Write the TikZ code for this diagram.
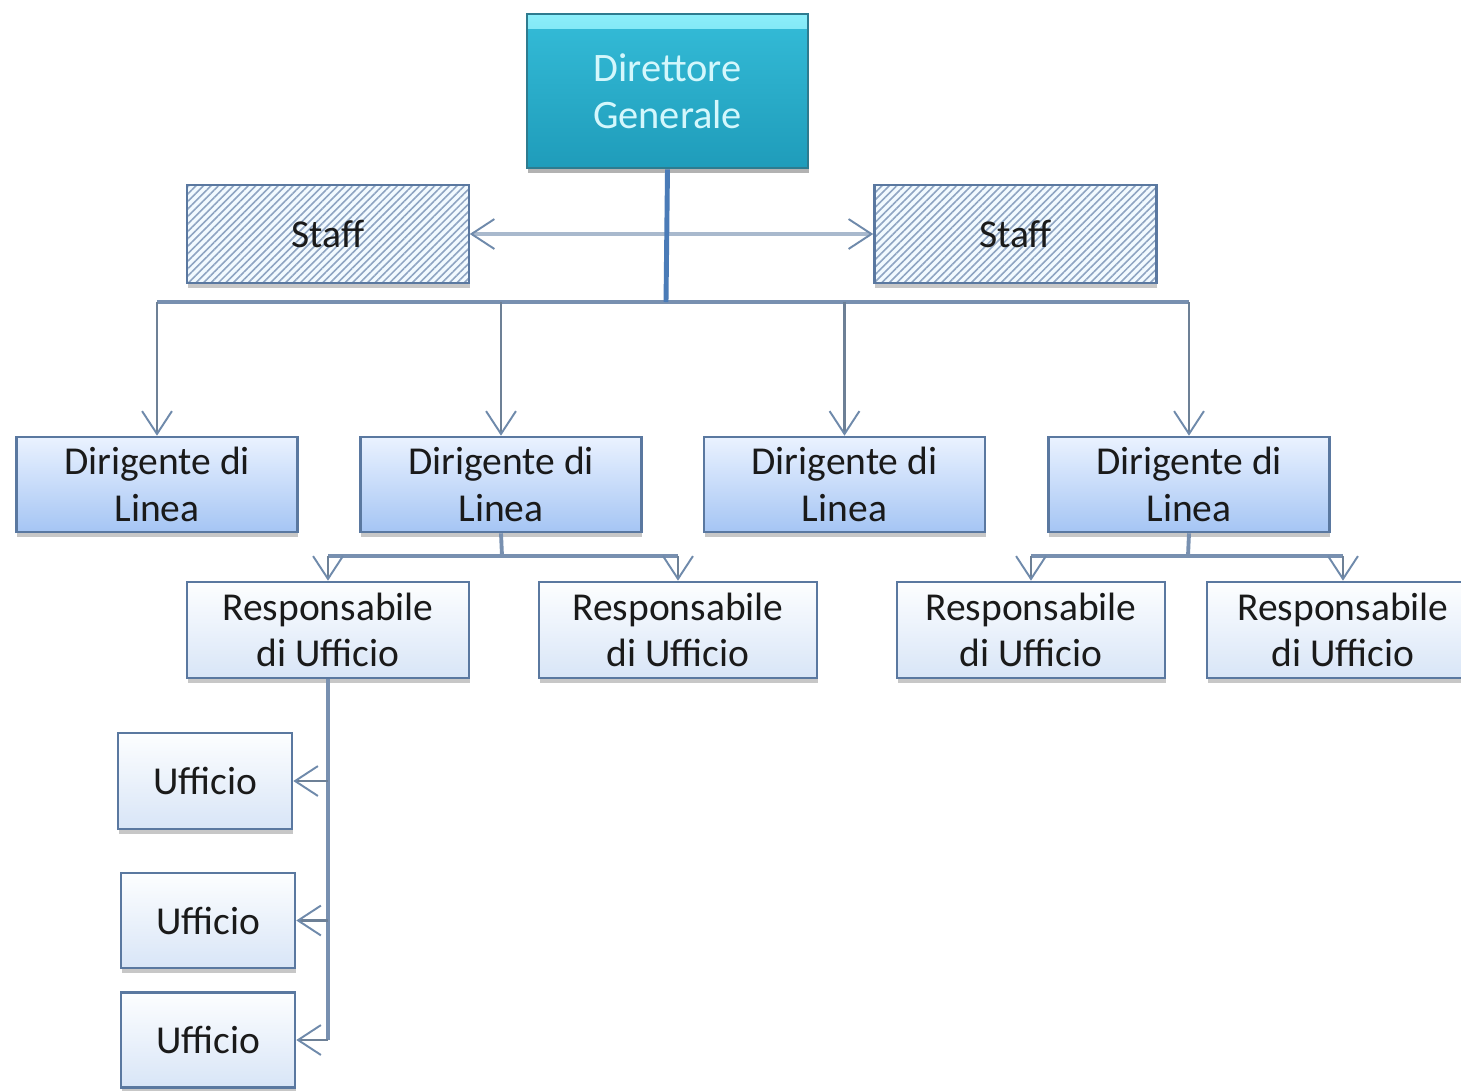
\documentclass[tikz,border=0pt]{standalone}
\usepackage{fontspec}
\setmainfont{Carlito}
\usetikzlibrary{arrows.meta,shadows,patterns.meta}
\definecolor{boxline}{HTML}{5A78A0}
\definecolor{txt}{HTML}{1A1A1A}
\definecolor{dlTop}{HTML}{EAF2FF}
\definecolor{dlBot}{HTML}{A5C5F4}
\definecolor{rsTop}{HTML}{FDFEFF}
\definecolor{rsBot}{HTML}{D8E5F7}
\definecolor{dgTop}{HTML}{34BCD8}
\definecolor{dgBot}{HTML}{1F9CBA}
\definecolor{dgHi}{HTML}{8CEEFA}
\definecolor{dgLine}{HTML}{2E7B8F}
\definecolor{dgTxt}{HTML}{D4F7FC}
\definecolor{staffBg}{HTML}{F2FAFF}
\definecolor{hatchC}{HTML}{8EA4C2}
\definecolor{trunkC}{HTML}{4A7BB7}
\definecolor{staffC}{HTML}{A9B9CD}
\definecolor{busC}{HTML}{7890B0}
\definecolor{dropC}{HTML}{6D8096}
\definecolor{tipC}{HTML}{6F8AAB}
\begin{document}
\begin{tikzpicture}[x=0.02cm,y=-0.02cm,
  tipV/.tip={Straight Barb[length=13pt,width=17pt,line width=1.1pt,color=tipC]},
  box/.style={draw=boxline, line width=1.5pt, align=center, inner sep=0pt,
    font=\fontsize{22.5}{26.5}\selectfont, text=txt,
    drop shadow={shadow xshift=0.5pt, shadow yshift=-3pt, opacity=0.22, fill=black}},
  dirbox/.style={box, top color=dlTop, bottom color=dlBot, minimum width=5.62cm, minimum height=1.9cm},
  resbox/.style={box, top color=rsTop, bottom color=rsBot, minimum height=1.92cm},
  ufbox/.style={box, top color=rsTop, bottom color=rsBot, minimum width=3.48cm, minimum height=1.92cm},
  stbox/.style={box, preaction={fill=staffBg}, pattern={Lines[angle=45,distance=3pt,line width=0.9pt]},
    pattern color=hatchC, minimum width=5.64cm, minimum height=1.96cm},
  dgbox/.style={draw=dgLine, line width=1.5pt, align=center, inner sep=0pt,
    font=\fontsize{23}{27}\selectfont, text=dgTxt, top color=dgTop, bottom color=dgBot,
    minimum width=5.62cm, minimum height=3.08cm,
    drop shadow={shadow xshift=0.5pt, shadow yshift=-3pt, opacity=0.3, fill=black},
    path picture={\shade[top color=dgHi, bottom color=dgTop]
      (path picture bounding box.north west) rectangle ([yshift=-8pt]path picture bounding box.north east);}},
  trunk/.style={draw=trunkC, line width=2.8pt},
  busl/.style={draw=busC, line width=2.2pt},
  arr/.style={draw=dropC, line width=1.5pt, -tipV},
  darr/.style={draw=staffC, line width=2.6pt, tipV-tipV},
]
\useasboundingbox (0,0) rectangle (1461,1090);
\clip (0,0) rectangle (1461,1090);

\node[dgbox] (dg) at (667.5,91) {Direttore\\Generale};
\node[stbox] (st1) at (328,234) {Staff};
\node[stbox] (st2) at (1015.5,234) {Staff};

\node[dirbox] (dl1) at (157,484.5) {Dirigente di\\Linea};
\node[dirbox] (dl2) at (501,484.5) {Dirigente di\\Linea};
\node[dirbox] (dl3) at (844.5,484.5) {Dirigente di\\Linea};
\node[dirbox] (dl4) at (1189,484.5) {Dirigente di\\Linea};

\node[resbox, minimum width=5.64cm] (rs1) at (328,630) {Responsabile\\di Ufficio};
\node[resbox, minimum width=5.56cm] (rs2) at (678,630) {Responsabile\\di Ufficio};
\node[resbox, minimum width=5.36cm] (rs3) at (1031,630) {Responsabile\\di Ufficio};
\node[resbox, minimum width=5.44cm] (rs4) at (1343,630) {Responsabile\\di Ufficio};

\node[ufbox] (uf1) at (205,781) {Ufficio};
\node[ufbox, minimum height=1.9cm] (uf2) at (208,920.5) {Ufficio};
\node[ufbox, minimum height=1.9cm] (uf3) at (208,1040) {Ufficio};

% staff arrow
\draw[darr] (st1.east) -- (st2.west);
% trunk and bus
\coordinate (bus) at (666,302);
\draw[busl] (dl1.north |- bus) -- (dl4.north |- bus);
\draw[trunk] (dg.south) -- (bus);
\draw[arr] (dl1.north |- bus) -- (dl1.north);
\draw[arr] (dl2.north |- bus) -- (dl2.north);
\draw[arr] (dl3.north |- bus) -- (dl3.north);
\draw[arr] (dl4.north |- bus) -- (dl4.north);

% under dirigente 2
\coordinate (b2) at (502,556);
\draw[busl] (dl2.south) -- (b2);
\draw[busl] (rs1.north |- b2) -- (rs2.north |- b2);
\draw[arr] (rs1.north |- b2) -- (rs1.north);
\draw[arr] (rs2.north |- b2) -- (rs2.north);

% under dirigente 4
\coordinate (b4) at (1188,556);
\draw[busl] (dl4.south) -- (b4);
\draw[busl] (rs3.north |- b4) -- (rs4.north |- b4);
\draw[arr] (rs3.north |- b4) -- (rs3.north);
\draw[arr] (rs4.north |- b4) -- (rs4.north);

% uffici
\coordinate (v1) at (330,678);
\draw[busl] (rs1.south) -- (rs1.south |- uf3.east);
\draw[arr] (rs1.south |- uf1.east) -- (uf1.east);
\draw[arr] (rs1.south |- uf2.east) -- (uf2.east);
\draw[arr] (rs1.south |- uf3.east) -- (uf3.east);
\end{tikzpicture}
\end{document}
